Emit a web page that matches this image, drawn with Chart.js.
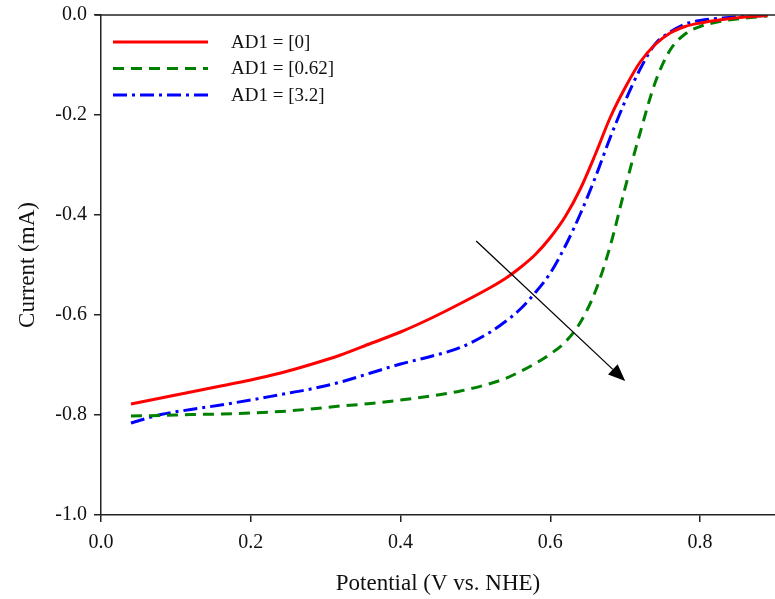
<!DOCTYPE html>
<html lang="en">
<head>
    <meta charset="UTF-8">
    <title>Current vs Potential</title>
    <script src="https://cdn.jsdelivr.net/npm/chart.js"></script>
    <style>
        body {
            margin: 0;
            background: #fff;
        }
        #wrap {
            width: 775px;
            height: 599px;
        }
    </style>
</head>
<body>
    <div id="wrap"><canvas id="lsvChart"></canvas></div>

    <script>
        // Potential (V vs. NHE) sample points, shared by all three curves
        const potential = [0.04, 0.08, 0.12, 0.16, 0.20, 0.24, 0.28, 0.32, 0.36, 0.40, 0.44, 0.48, 0.52, 0.54,
            0.56, 0.58, 0.60, 0.62, 0.64, 0.66, 0.68, 0.70, 0.72, 0.74, 0.76, 0.78, 0.80, 0.83, 0.86, 0.89];

        // Current (mA)
        const currentAD0 = [-0.778, -0.766, -0.754, -0.742, -0.730, -0.716, -0.699, -0.680, -0.657, -0.634, -0.607,
            -0.577, -0.545, -0.527, -0.505, -0.479, -0.445, -0.403, -0.348, -0.279, -0.205, -0.145, -0.094, -0.059,
            -0.036, -0.023, -0.016, -0.009, -0.004, -0.001];
        const currentAD062 = [-0.802, -0.801, -0.799, -0.798, -0.796, -0.793, -0.788, -0.782, -0.777, -0.770, -0.762,
            -0.752, -0.737, -0.727, -0.713, -0.697, -0.678, -0.654, -0.615, -0.553, -0.462, -0.345, -0.235, -0.135,
            -0.070, -0.038, -0.023, -0.012, -0.006, -0.002];
        const currentAD32 = [-0.816, -0.799, -0.789, -0.780, -0.770, -0.759, -0.748, -0.734, -0.716, -0.698, -0.683,
            -0.665, -0.634, -0.613, -0.588, -0.555, -0.516, -0.462, -0.398, -0.325, -0.245, -0.172, -0.108, -0.058,
            -0.034, -0.018, -0.011, -0.006, -0.003, -0.001];

        const seriesLabels = ['AD1 = [0]', 'AD1 = [0.62]', 'AD1 = [3.2]'];
        const xTickValues = [0.0, 0.2, 0.4, 0.6, 0.8];
        // arrow start / end in data units [potential, current]
        const arrowFrom = [0.501, -0.452];
        const arrowTo = [0.700, -0.732];

        const serif = "'Liberation Serif', 'Times New Roman', serif";
        const toPoints = ys => potential.map((x, i) => ({ x: x, y: ys[i] }));

        // legend inside the plot, arrow and top frame line
        const overlay = {
            id: 'overlay',
            afterDatasetsDraw(chart) {
                const { ctx, chartArea, scales } = chart;
                ctx.save();

                // top frame
                ctx.strokeStyle = '#222';
                ctx.lineWidth = 1.5;
                ctx.beginPath();
                ctx.moveTo(chartArea.left - 6, chartArea.top);
                ctx.lineTo(chartArea.right, chartArea.top);
                ctx.stroke();

                // arrow
                const x1 = scales.x.getPixelForValue(arrowFrom[0]);
                const y1 = scales.y.getPixelForValue(arrowFrom[1]);
                const x2 = scales.x.getPixelForValue(arrowTo[0]);
                const y2 = scales.y.getPixelForValue(arrowTo[1]);
                const ang = Math.atan2(y2 - y1, x2 - x1);
                const headLen = 17, headW = 7;
                const bx = x2 - headLen * Math.cos(ang);
                const by = y2 - headLen * Math.sin(ang);
                ctx.strokeStyle = '#000';
                ctx.lineWidth = 1.3;
                ctx.beginPath();
                ctx.moveTo(x1, y1);
                ctx.lineTo(bx, by);
                ctx.stroke();
                ctx.fillStyle = '#000';
                ctx.beginPath();
                ctx.moveTo(x2, y2);
                ctx.lineTo(bx + headW * Math.sin(ang), by - headW * Math.cos(ang));
                ctx.lineTo(bx - headW * Math.sin(ang), by + headW * Math.cos(ang));
                ctx.closePath();
                ctx.fill();

                // legend
                ctx.font = '19px ' + serif;
                ctx.textBaseline = 'middle';
                chart.data.datasets.forEach((ds, i) => {
                    const y = chartArea.top + 27 + i * 26.5;
                    ctx.strokeStyle = ds.borderColor;
                    ctx.lineWidth = ds.borderWidth;
                    ctx.setLineDash(ds.borderDash || []);
                    ctx.beginPath();
                    ctx.moveTo(chartArea.left + 12, y);
                    ctx.lineTo(chartArea.left + 107, y);
                    ctx.stroke();
                    ctx.setLineDash([]);
                    ctx.fillStyle = '#111';
                    ctx.fillText(ds.label, chartArea.left + 130, y + 1);
                });

                ctx.restore();
            }
        };

        new Chart(document.getElementById('lsvChart'), {
            type: 'line',
            data: {
                datasets: [{
                    label: seriesLabels[0],
                    data: toPoints(currentAD0),
                    borderColor: '#ff0000',
                    borderWidth: 3,
                }, {
                    label: seriesLabels[1],
                    data: toPoints(currentAD062),
                    borderColor: '#008000',
                    borderWidth: 3,
                    borderDash: [11, 7],
                }, {
                    label: seriesLabels[2],
                    data: toPoints(currentAD32),
                    borderColor: '#0000ff',
                    borderWidth: 3,
                    borderDash: [14, 5, 3, 5],
                }]
            },
            options: {
                responsive: true,
                maintainAspectRatio: false,
                animation: false,
                elements: {
                    point: { radius: 0 },
                    line: { tension: 0.4, cubicInterpolationMode: 'monotone' }
                },
                layout: { padding: { top: 15, right: 0, left: 0, bottom: 0 } },
                plugins: {
                    legend: { display: false },
                    tooltip: { enabled: false }
                },
                scales: {
                    x: {
                        type: 'linear',
                        min: 0,
                        max: 0.9,
                        afterBuildTicks: scale => {
                            scale.ticks = xTickValues.map(v => ({ value: v }));
                        },
                        afterFit: scale => { scale.height = 84; },
                        border: { display: true, color: '#222', width: 1.5 },
                        grid: { drawOnChartArea: false, drawTicks: true, tickLength: 7, color: '#222', lineWidth: 1.5 },
                        ticks: {
                            padding: 9,
                            color: '#111',
                            font: { family: serif, size: 20 },
                            callback: v => v.toFixed(1)
                        },
                        title: {
                            display: true,
                            text: 'Potential (V vs. NHE)',
                            color: '#111',
                            font: { family: serif, size: 23 },
                            padding: { top: 0, bottom: 1 }
                        }
                    },
                    y: {
                        min: -1,
                        max: 0,
                        afterFit: scale => {
                            scale.width = 101;
                            scale.paddingTop = 0;
                            scale.paddingBottom = 0;
                        },
                        border: { display: true, color: '#222', width: 1.5 },
                        grid: { drawOnChartArea: false, drawTicks: true, tickLength: 7, color: '#222', lineWidth: 1.5 },
                        ticks: {
                            stepSize: 0.2,
                            padding: 7,
                            color: '#111',
                            font: { family: serif, size: 20 },
                            callback: v => v.toFixed(1)
                        },
                        title: {
                            display: true,
                            text: 'Current (mA)',
                            color: '#111',
                            font: { family: serif, size: 23 },
                            padding: { top: 14, bottom: 0 }
                        }
                    }
                }
            },
            plugins: [overlay]
        });
    </script>
</body>
</html>
